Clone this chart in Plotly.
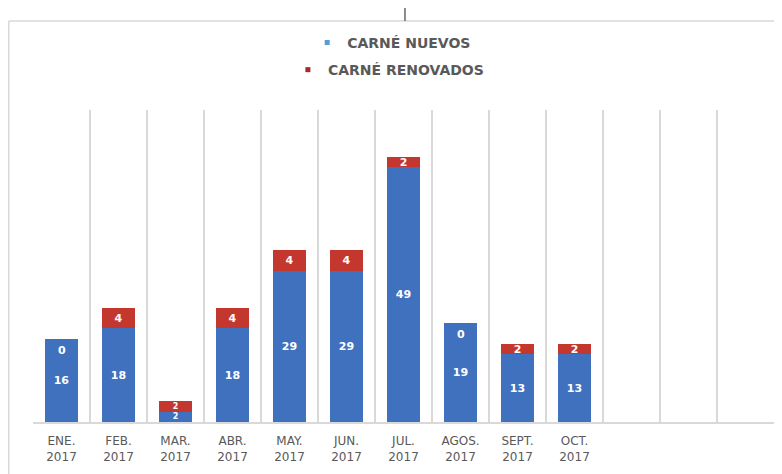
import plotly.graph_objects as go

# monthly card counts, 2017
months = ["ENE.<br>2017", "FEB.<br>2017", "MAR.<br>2017", "ABR.<br>2017",
          "MAY.<br>2017", "JUN.<br>2017", "JUL.<br>2017", "AGOS.<br>2017",
          "SEPT.<br>2017", "OCT.<br>2017"]
nuevos = [16, 18, 2, 18, 29, 29, 49, 19, 13, 13]
renovados = [0, 4, 2, 4, 4, 4, 2, 0, 2, 2]
# empty slots at the end of the axis (nov/dic not filled yet)
empty_slots = [" ", "  ", "   "]

BLUE = "#3F71BF"
RED = "#C4372E"
GRAY = "#595959"
GRID = "#D9D9D9"

label_font = dict(family="DejaVu Sans", size=11, color="white", weight="bold")


def label_sizes(values):
    # very thin segments get a smaller label so the two labels don't collide
    return [11 if v >= 3 else 8 for v in values]


fig = go.Figure()

fig.add_trace(
    go.Bar(
        name="CARNÉ NUEVOS",
        x=months,
        y=nuevos,
        marker=dict(color=BLUE, line=dict(width=0)),
        text=nuevos,
        textposition="inside",
        insidetextanchor="middle",
        textangle=0,
        constraintext="none",
        textfont=dict(label_font, size=label_sizes(nuevos)),
        showlegend=False,
    )
)

fig.add_trace(
    go.Bar(
        name="CARNÉ RENOVADOS",
        x=months,
        y=renovados,
        marker=dict(color=RED, line=dict(width=0)),
        text=[v if v else "" for v in renovados],
        textposition="inside",
        insidetextanchor="middle",
        textangle=0,
        constraintext="none",
        textfont=dict(label_font, size=label_sizes(nuevos)),
        showlegend=False,
    )
)

# legend entries with small square markers, each line centred like the original
fig.add_trace(go.Scatter(x=[None], y=[None], mode="markers", name="CARNÉ NUEVOS",
                         marker=dict(symbol="square", size=5, color="#5B9BD5"),
                         legend="legend"))
fig.add_trace(go.Scatter(x=[None], y=[None], mode="markers", name="CARNÉ RENOVADOS",
                         marker=dict(symbol="square", size=5, color="#A5282C"),
                         legend="legend2"))

# zero labels for the renovados series sit just under the bar top
for m, n, r in zip(months, nuevos, renovados):
    if r == 0:
        fig.add_annotation(x=m, y=n, text=str(r), showarrow=False,
                           yanchor="top", yshift=-3, font=label_font)

legend_font = dict(family="DejaVu Sans", size=14, color=GRAY, weight="bold")

# frame of the original document and the little mark on top
shapes = [
    dict(type="line", xref="paper", yref="paper", x0=-0.0327, x1=1.02, y0=1.285, y1=1.285,
         line=dict(color=GRID, width=1.5)),
    dict(type="line", xref="paper", yref="paper", x0=-0.0327, x1=-0.0327, y0=1.285, y1=-0.2,
         line=dict(color=GRID, width=1.5)),
    dict(type="line", xref="paper", yref="paper", x0=0.502, x1=0.502, y0=1.285, y1=1.33,
         line=dict(color="#666666", width=1.5)),
]

# the page body adds an 8px offset, so the figure is 8px smaller
fig.update_layout(
    width=774,
    height=466,
    margin=dict(l=25, r=8, t=102, b=52),
    paper_bgcolor="white",
    plot_bgcolor="white",
    barmode="stack",
    bargap=0.43,
    shapes=shapes,
    legend=dict(x=0.370, y=1.215, xanchor="left", yanchor="middle",
                font=legend_font, bgcolor="rgba(0,0,0,0)", itemwidth=30),
    legend2=dict(x=0.344, y=1.128, xanchor="left", yanchor="middle",
                 font=legend_font, bgcolor="rgba(0,0,0,0)", itemwidth=30),
    xaxis=dict(
        categoryorder="array",
        categoryarray=months + empty_slots,
        range=[-0.5, 12.5],
        tickson="boundaries",
        showgrid=True,
        gridcolor=GRID,
        gridwidth=2,
        showline=True,
        linecolor=GRID,
        linewidth=1.5,
        ticks="",
        ticklabelstandoff=7,
        tickfont=dict(family="DejaVu Sans", size=12, color=GRAY),
    ),
    yaxis=dict(
        range=[0, 60],
        showgrid=False,
        zeroline=False,
        showticklabels=False,
    ),
)

fig.write_html("out.html")
